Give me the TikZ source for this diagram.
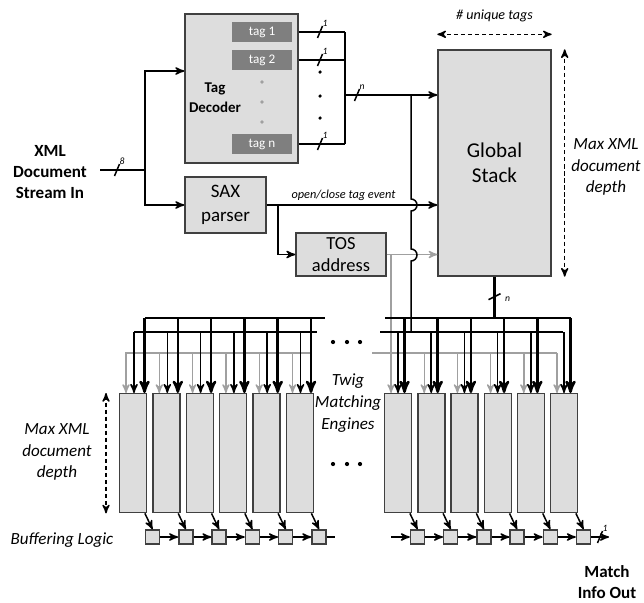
\documentclass[tikz,border=0pt]{standalone}
\usepackage{fontspec}
\setmainfont{Carlito}
\usepackage{tikz}
\usetikzlibrary{arrows,positioning,calc}

\definecolor{boxfill}{HTML}{DDDDDD}
\definecolor{boxedge}{HTML}{404040}
\definecolor{tagfill}{HTML}{7F7F7F}
\definecolor{wiregray}{HTML}{A0A0A0}

\tikzset{
  every picture/.style = {
    >=stealth',
    x = 0.02cm,
    y = -0.02cm
  }
  ,
  block/.style = {
    rectangle,
    draw = boxedge,
    fill = boxfill,
    line width = 0.8pt,
    inner sep = 0pt,
    align = center
  }
  ,
  tagbox/.style = {
    rectangle,
    fill = tagfill,
    text = white,
    font = \fontsize{7.5}{9}\selectfont,
    minimum width = 1.2cm,
    minimum height = 0.4cm,
    inner sep = 0pt
  }
  ,
  engine/.style = {
    block,
    anchor = north west,
    minimum width = 0.54cm,
    minimum height = 2.38cm
  }
  ,
  buffer/.style = {
    block,
    minimum size = 0.28cm
  }
  ,
  wire/.style = {line width = 0.85pt},
  thickwire/.style = {line width = 1.4pt},
  graywire/.style = {draw = wiregray, line width = 0.8pt},
  dimarrow/.style = {
    <->,
    line width = 0.8pt,
    dash pattern = on 2.4pt off 1.6pt
  }
  , % bus width marks
  widthlabel/.style = {
    font = \fontsize{5.5}{6}\selectfont\itshape,
    inner sep = 0.5pt
  }
  , % italic notes
  dimlabel/.style = {
    font = \fontsize{9.7}{12.3}\selectfont\itshape,
    align = center
  }
  , % bold in/out labels
  headlabel/.style = {
    font = \fontsize{9.7}{12}\selectfont\bfseries,
    align = center
  }
}

% slash with bus width on a horizontal wire
\newcommand{\busmark}[2]{%
  \draw[wire] ($#1+(-2.5,6)$) -- ($#1+(2.5,-6)$);
  \node[widthlabel, anchor = south west] at ($#1+(1.5,-4)$) {#2};
}

\begin{document}
\begin{tikzpicture}
  \useasboundingbox (0,0) rectangle (644,602);

  % input and front end
  \node [headlabel] (xmltext) at (50,172) {XML\\Document\\Stream In};
  \coordinate (instart) at (100,170);
  \coordinate (split) at (145,170);

  \node [block, minimum width = 2.26cm, minimum height = 2.98cm] (dec) at (241.5,88.5) {};
  \node [tagbox] (tag1) at (262,32) {tag 1};
  \node [tagbox] (tag2) at (262,60) {tag 2};
  \node [tagbox] (tagn) at (262,144) {tag n};
  \foreach \y in {82,102,122}
    \fill [wiregray] (262,\y) circle (1.1pt);
  \node [font = \fontsize{8.5}{11.3}\selectfont\bfseries, align = center] (declabel) at (215,98) {Tag\\Decoder};

  \node [block, minimum width = 1.62cm, minimum height = 1.12cm, font = \fontsize{10.8}{13.3}\selectfont] (sax) at (225.5,205) {SAX\\parser};
  \node [block, minimum width = 1.8cm, minimum height = 0.86cm, font = \fontsize{10.5}{13}\selectfont] (tos) at (341,254.5) {TOS\\address};

  \node [block, minimum width = 2.26cm, minimum height = 4.52cm, font = \fontsize{12}{14.5}\selectfont] (stack) at (494.5,163) {Global\\Stack};

  \draw [wire] (instart) -- (split);
  \busmark{(117,170)}{8}
  \draw [wire, ->] (split) |- ([yshift = 0.35cm]dec.west);
  \draw [wire, ->] (split) |- (sax.west);

  % decoded tags merge into n wires
  \coordinate (mtop) at (345,32);
  \coordinate (mbot) at (345,144);
  \coordinate (mmid) at (345,95);
  \coordinate (tap) at (411,95);
  \foreach \t in {tag1,tag2,tagn} {
    \draw [wire] (dec.east |- \t.east) -- (mtop |- \t.east);
    \busmark{(320,0 |- \t.east)}{1}
  }
  \foreach \y in {72,96,118}
    \fill (320,\y) circle (1pt);
  \draw [wire] (mtop) -- (mbot);
  \draw [wire, ->] (mmid) -- (stack.west |- mmid);
  \busmark{(357,95)}{n}

  % parser outputs
  \draw [wire, ->] (sax.east) -- node [pos = 0.45, above = -1pt, font = \fontsize{7}{8}\selectfont\itshape] {open/close tag event} (stack.west |- sax.east);
  \coordinate (branch) at (278,205);
  \draw [wire, ->] (branch) |- (tos.west);
  \draw [graywire, ->] (tos.east) -- (stack.west |- tos.east);

  % stack dimensions
  \draw [dimarrow] ([yshift = 0.3cm]stack.north west) -- ([yshift = 0.3cm]stack.north east);
  \node [dimlabel, font = \fontsize{8}{10}\selectfont\itshape] (uniq) at (494.5,16) {\# unique tags};
  \draw [dimarrow] ([xshift = 0.26cm]stack.north east) -- ([xshift = 0.26cm]stack.south east);
  \node [dimlabel] (stackdepth) at (606,167) {Max XML\\document\\depth};

  % buses
  \coordinate (tbusL) at (145,318);   \coordinate (tbusLe) at (325,318);
  \coordinate (mbusL) at (134,332);   \coordinate (mbusLe) at (317,332);
  \coordinate (gbusL) at (125,353);   \coordinate (gbusLe) at (311,353);
  \coordinate (tbusR) at (385,318);   \coordinate (tbusRe) at (571,318);
  \coordinate (mbusR) at (380,332);   \coordinate (mbusRe) at (563,332);
  \coordinate (gbusR) at (372,353);   \coordinate (gbusRe) at (557,353);
  \coordinate (tosdrop) at (391,254.5);

  \draw [graywire] (gbusL) -- (gbusLe);
  \draw [graywire] (gbusR) -- (gbusRe);
  \draw [graywire] (tosdrop) -- (tosdrop |- gbusR);
  \draw [wire] (mbusL) -- (mbusLe);
  \draw [wire] (mbusR) -- (mbusRe);
  \draw [thickwire] (tbusL) -- (tbusLe);
  \draw [thickwire] (tbusR) -- (tbusRe);

  % tag wires hop over the parser lines
  \draw [wire] (tap) -- (411,199)
    arc [start angle = 90, end angle = -90, radius = 0.12cm] -- (411,249)
    arc [start angle = 90, end angle = -90, radius = 0.12cm] -- (tap |- mbusR);

  % stack output
  \draw [thickwire] (stack.south) -- (stack.south |- tbusR);
  \draw [wire] ($(stack.south)+(-6,23)$) -- ($(stack.south)+(6,17)$);
  \node [widthlabel] at ($(stack.south)+(13,22)$) {n};

  % twig matching engines and buffers
  \foreach \i in {0,...,5} {
    \node [engine] (el\i) at ({119+33.3*\i},393) {};
    \node [engine] (er\i) at ({384+33.2*\i},393) {};
    \node [buffer] (bl\i) at ({152.5+33.3*\i},537) {};
    \node [buffer] (br\i) at ({417.5+33.2*\i},537) {};

    \coordinate (gl) at ($(el\i.north west)+(7,0)$);
    \coordinate (ml) at ($(el\i.north west)+(15,0)$);
    \coordinate (tl) at ($(el\i.north west)+(25.5,0)$);
    \draw [graywire, ->] (gl |- gbusL) -- (gl);
    \draw [wire, ->] (ml |- mbusL) -- (ml);
    \draw [thickwire, ->] (tl |- tbusL) -- (tl);

    \coordinate (gr) at ($(er\i.north west)+(7,0)$);
    \coordinate (mr) at ($(er\i.north west)+(14,0)$);
    \coordinate (tr) at ($(er\i.north west)+(20.5,0)$);
    \draw [graywire, ->] (gr |- gbusR) -- (gr);
    \draw [wire, ->] (mr |- mbusR) -- (mr);
    \draw [thickwire, ->] (tr |- tbusR) -- (tr);

    \draw [wire, ->] ($(el\i.south east)+(-2.5,0)$) -- (bl\i.north);
    \draw [wire, ->] ($(er\i.south east)+(-2.5,0)$) -- (br\i.north);
  }

  \foreach \i [count = \j] in {0,...,4} {
    \draw [wire, ->] (bl\i) -- (bl\j);
    \draw [wire, ->] (br\i) -- (br\j);
  }
  \coordinate (bufLend) at (335,537);
  \coordinate (bufRin) at (391,537);
  \coordinate (matchout) at (609,537);
  \draw [wire] (bl5) -- (bufLend);
  \draw [wire, ->] (bufRin) -- (br0);
  \draw [wire, ->] (br5) -- (matchout);
  \busmark{(600,537)}{1}

  % continuation dots
  \foreach \x in {333,347,360} {
    \fill (\x,342) circle (1.2pt);
    \fill (\x,464) circle (1.2pt);
  }

  \node [dimlabel] (twig) at (348,403) {Twig\\Matching\\Engines};
  \draw [dimarrow] ([xshift = -0.26cm]el0.north west) -- ([xshift = -0.26cm]el0.south west);
  \node [dimlabel] (enginedepth) at (57,452) {Max XML\\document\\depth};
  \node [dimlabel] (buffering) at (62,540) {Buffering Logic};
  \node [headlabel] (matchinfo) at (607,582) {Match\\Info Out};
\end{tikzpicture}
\end{document}
